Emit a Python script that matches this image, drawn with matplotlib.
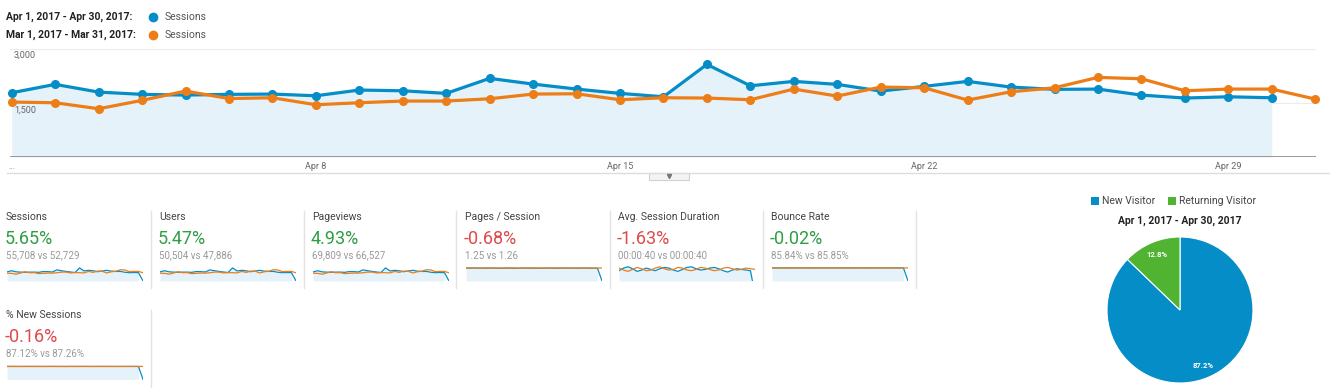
import numpy as np
import matplotlib
matplotlib.use("Agg")
import matplotlib.pyplot as plt
from matplotlib.patches import Rectangle
from matplotlib.lines import Line2D

plt.rcParams["font.family"] = ["Roboto", "DejaVu Sans"]

W, H = 1330, 391
BLUE, ORANGE, GREEN = "#058dc7", "#ed7e17", "#50b432"
GOOD, BAD = "#2f9e44", "#dd4b4b"

# daily sessions: Apr 2017 (current) vs Mar 2017 (previous)
sessions_apr = [1776, 2008, 1795, 1732, 1712, 1732, 1740, 1693, 1851, 1831,
                1759, 2174, 2016, 1878, 1759, 1665, 2560, 1969, 2091, 2008,
                1823, 1953, 2091, 1933, 1870, 1878, 1712, 1630, 1665, 1638]
sessions_mar = [1519, 1500, 1334, 1566, 1823, 1616, 1638, 1445, 1500, 1547,
                1547, 1610, 1740, 1748, 1583, 1638, 1630, 1583, 1878, 1685,
                1933, 1914, 1574, 1804, 1914, 2201, 2163, 1831, 1878, 1878, 1602]
x_ticks = [7, 14, 21, 28]
x_tick_labels = ["Apr 8", "Apr 15", "Apr 22", "Apr 29"]
y_ticks = [1500, 3000]
y_tick_labels = ["1,500", "3,000"]
range_labels = ["Apr 1, 2017 - Apr 30, 2017:", "Mar 1, 2017 - Mar 31, 2017:"]

# small per-day series for the sparklines
pages_apr = [1.26, 1.25, 1.27, 1.25, 1.24, 1.26, 1.25, 1.25, 1.24, 1.26,
             1.25, 1.24, 1.25, 1.26, 1.25, 1.25, 1.24, 1.25, 1.26, 1.25,
             1.24, 1.25, 1.26, 1.25, 1.25, 1.24, 1.26, 1.25, 1.24, 1.25]
pages_mar = [1.26, 1.27, 1.26, 1.25, 1.26, 1.27, 1.26, 1.25, 1.26, 1.26,
             1.27, 1.26, 1.25, 1.26, 1.26, 1.27, 1.26, 1.26, 1.25, 1.26,
             1.27, 1.26, 1.26, 1.25, 1.26, 1.26, 1.27, 1.26, 1.25, 1.26, 1.26]
duration_apr = [36, 40, 42, 39, 35, 37, 40, 38, 36, 39, 41, 40, 37, 35, 38,
                41, 42, 39, 37, 38, 40, 41, 39, 36, 34, 37, 39, 38, 37, 36]
duration_mar = [40, 37, 35, 38, 41, 39, 36, 37, 40, 42, 39, 37, 38, 41, 40,
                37, 36, 38, 41, 40, 38, 36, 37, 40, 41, 39, 37, 38, 40, 39, 38]
bounce_apr = [85.9, 85.8, 85.9, 85.8, 85.8, 85.9, 85.8, 85.9, 85.8, 85.8,
              85.9, 85.8, 85.8, 85.9, 85.8, 85.8, 85.9, 85.8, 85.8, 85.9,
              85.8, 85.8, 85.9, 85.8, 85.8, 85.9, 85.8, 85.8, 85.9, 85.8]
bounce_mar = [85.8, 85.9, 85.8, 85.9, 85.8, 85.8, 85.9, 85.8, 85.9, 85.8,
              85.8, 85.9, 85.8, 85.9, 85.8, 85.9, 85.8, 85.8, 85.9, 85.8,
              85.9, 85.8, 85.8, 85.9, 85.8, 85.9, 85.8, 85.9, 85.8, 85.8, 85.9]
newsess_apr = [87.1, 87.2, 87.1, 87.0, 87.2, 87.1, 87.1, 87.2, 87.0, 87.1,
               87.2, 87.1, 87.1, 87.0, 87.2, 87.1, 87.1, 87.2, 87.1, 87.0,
               87.1, 87.2, 87.1, 87.1, 87.0, 87.2, 87.1, 87.1, 87.2, 87.1]
newsess_mar = [87.3, 87.2, 87.3, 87.2, 87.3, 87.3, 87.2, 87.3, 87.2, 87.3,
               87.3, 87.2, 87.3, 87.2, 87.3, 87.3, 87.2, 87.3, 87.2, 87.3,
               87.3, 87.2, 87.3, 87.2, 87.3, 87.3, 87.2, 87.3, 87.2, 87.3, 87.3]

card_titles = ["Sessions", "Users", "Pageviews", "Pages / Session",
               "Avg. Session Duration", "Bounce Rate", "% New Sessions"]
card_changes = ["5.65%", "5.47%", "4.93%", "-0.68%", "-1.63%", "-0.02%", "-0.16%"]
card_good = [True, True, True, False, False, True, False]
card_compare = ["55,708 vs 52,729", "50,504 vs 47,886", "69,809 vs 66,527",
                "1.25 vs 1.26", "00:00:40 vs 00:00:40", "85.84% vs 85.85%",
                "87.12% vs 87.26%"]
# sessions, users and pageviews sparklines share the sessions shape
card_spark = [(sessions_apr, sessions_mar), (sessions_apr, sessions_mar),
              (sessions_apr, sessions_mar), (pages_apr, pages_mar),
              (duration_apr, duration_mar), (bounce_apr, bounce_mar),
              (newsess_apr, newsess_mar)]

visitor_labels = ["New Visitor", "Returning Visitor"]
visitor_share = [87.2, 12.8]

fig = plt.figure(figsize=(W / 100, H / 100), dpi=100)


def px_axes(left, top, width, height):
    return fig.add_axes([left / W, 1 - (top + height) / H, width / W, height / H])


def ftext(x, y, s, **kw):
    fig.text(x / W, 1 - y / H, s, **kw)


def fline(x0, x1, y0, y1, **kw):
    fig.add_artist(Line2D([x0 / W, x1 / W], [1 - y0 / H, 1 - y1 / H], **kw))


# ---------- legend ----------
for i, (lbl, c) in enumerate(zip(range_labels, [BLUE, ORANGE])):
    y = 17 + 18 * i
    ftext(6, y, lbl, fontsize=7.5, fontweight="bold", color="#222222", va="center")
    fig.add_artist(Line2D([153 / W], [1 - y / H], marker="o", ms=6, color=c, mec=c))
    ftext(165, y, "Sessions", fontsize=7.5, color="#555555", va="center")

# ---------- main chart ----------
x0px, step = 11.7, 43.45
ax = px_axes(10, 48.5, 1306, 108.5)
ax.set_xlim((10 - x0px) / step, (1316 - x0px) / step)
ax.set_ylim(0, 3000)
ax.axis("off")
days_apr = np.arange(len(sessions_apr))
days_mar = np.arange(len(sessions_mar))
for t in y_ticks:
    ax.axhline(t, color="#ececec", lw=0.8, zorder=0)
ax.fill_between(days_apr, 0, sessions_apr, color="#e6f2fa", lw=0, zorder=1)
ax.axhline(0, color="#888888", lw=1.2, zorder=2)
ax.plot(days_apr, sessions_apr, "-o", color=BLUE, lw=2.3, ms=5.5, zorder=3, clip_on=False)
ax.plot(days_mar, sessions_mar, "-o", color=ORANGE, lw=2.3, ms=5.5, zorder=4, clip_on=False)
for t, lbl in zip(y_ticks, y_tick_labels):
    ax.annotate(lbl, xy=(0, t), xycoords=ax.get_yaxis_transform(), xytext=(4, -7),
                textcoords="offset pixels", fontsize=6.5, color="#666666", va="center")
xt = ax.get_xaxis_transform()
ax.text(0, -0.09, "...", transform=xt, fontsize=6.5, color="#888888", ha="center", va="center")
for t, lbl in zip(x_ticks, x_tick_labels):
    ax.text(t, -0.083, lbl, transform=xt, fontsize=6.5, color="#666666", ha="center", va="center")

# separator + collapse tab
fline(7, 1330, 173.5, 173.5, color="#dddddd", lw=1)
fig.add_artist(Rectangle((649 / W, 1 - 180 / H), 40 / W, 7 / H, transform=fig.transFigure,
                         facecolor="#f3f3f3", edgecolor="#d0d0d0", lw=0.8))
fig.add_artist(Line2D([669 / W], [1 - 176.5 / H], marker="v", ms=3, color="#777777", lw=0))

# ---------- scorecards ----------
for i, title in enumerate(card_titles):
    col, row = (i, 0) if i < 6 else (0, 1)
    left = 6 + 153 * col
    dy = 98.5 * row
    ftext(left, 216.5 + dy, title, fontsize=7.5, color="#444444", va="center")
    ftext(left - 1, 239 + dy, card_changes[i], fontsize=13,
          color=GOOD if card_good[i] else BAD, va="center")
    ftext(left, 255.7 + dy, card_compare[i], fontsize=7, color="#999999", va="center")
    fline(left + 144.5, left + 144.5, 211 + dy, 288 + dy, color="#e3e3e3", lw=1)

    cur, prev = card_spark[i]
    sx = px_axes(left + 1, 264 + dy, 136, 17)
    sx.axis("off")
    cur_ext = list(cur) + [0]  # no Apr 31 -> drops to zero
    top = max(max(cur), max(prev))
    lo = min(min(cur), min(prev)) if i == 4 else 0
    sx.set_ylim(lo * 0.6, top * 1.3 if i != 4 else top * 1.1)
    sx.set_xlim(0, len(prev) - 1)
    sx.fill_between(np.arange(len(cur)), lo * 0.6, cur, color="#e6f2fa", lw=0)
    sx.plot(np.arange(len(cur_ext)), cur_ext, color=BLUE, lw=0.9)
    sx.plot(np.arange(len(prev)), prev, color=ORANGE, lw=0.9)

# ---------- pie ----------
sq = 8
for lbl, c, x in zip(visitor_labels, [BLUE, GREEN], [1091, 1168]):
    fig.add_artist(Rectangle((x / W, 1 - 205 / H), sq / W, sq / H, transform=fig.transFigure,
                             facecolor=c, lw=0))
    ftext(x + 11, 201, lbl, fontsize=7.5, color="#444444", va="center")
ftext(1180, 221, "Apr 1, 2017 - Apr 30, 2017", fontsize=7.5, fontweight="bold",
      color="#222222", ha="center", va="center")
pax = px_axes(1107, 237, 146, 146)
pax.pie(visitor_share, colors=[BLUE, GREEN], startangle=90, counterclock=False,
        wedgeprops=dict(edgecolor="white", linewidth=0.8),
        autopct="%.1f%%", pctdistance=0.82,
        textprops=dict(color="white", fontsize=5.5, fontweight="bold"))
pax.set_xlim(-1, 1)
pax.set_ylim(-1, 1)
pax.set_aspect("equal")

fig.savefig("out.png", dpi=100, facecolor="white")
